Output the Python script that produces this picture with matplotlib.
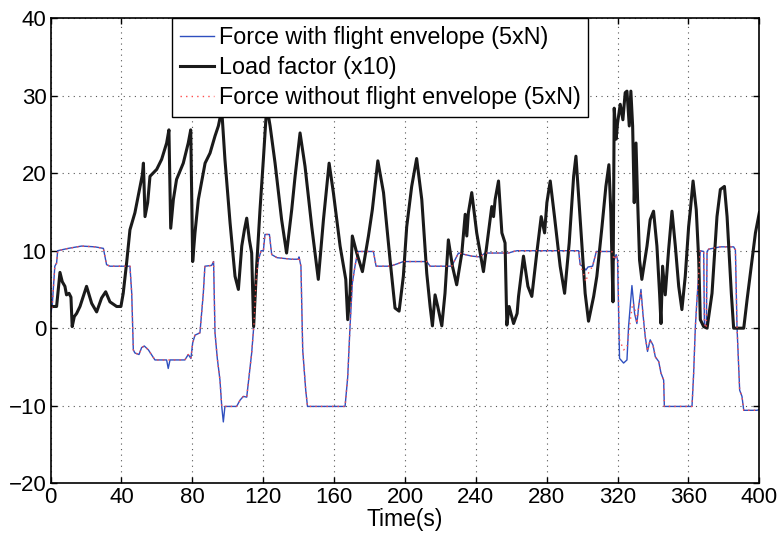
import matplotlib.pyplot as plt
import numpy as np

plt.rcParams['font.family'] = ['Liberation Sans', 'DejaVu Sans']

# load factor (x10)
t_load = [0, 3.4, 5.3, 6.6, 8.1, 9.0, 10.4, 11.5, 12.2, 13.4, 14.7, 16.6, 20.3, 23.2, 26.0, 28.8,
          31.1, 33.5, 37.3, 39.7, 41.0, 42.9, 44.8, 47.6, 50.5, 51.8, 52.4, 53.3, 54.8, 56.1, 59.9,
          62.7, 65.5, 66.8, 67.8, 69.3, 71.1, 74.9, 77.7, 79.1, 80.2, 81.5, 83.4, 87.2, 90.0, 92.8,
          94.7, 96.6, 98.4, 101.3, 104.1, 106.0, 107.9, 109.4, 110.7, 112.2, 113.5, 114.6, 116.3,
          118.2, 120.1, 122.0, 123.9, 126.7, 130.4, 133.2, 136.1, 138.0, 140.8, 143.6, 147.4, 151.1,
          154.0, 157.2, 159.6, 163.4, 166.6, 167.7, 169.0, 170.3, 172.8, 176.0, 179.4, 181.6, 184.7,
          187.9, 191.6, 194.4, 196.7, 199.1, 201.0, 203.8, 206.6, 209.5, 212.3, 214.2, 215.5, 217.0,
          218.5, 220.8, 222.6, 224.5, 226.8, 229.2, 232.1, 234.0, 234.9, 235.8, 237.7, 240.5, 244.3,
          247.1, 249.0, 250.0, 250.9, 252.8, 254.7, 256.5, 257.5, 258.8, 261.3, 263.3, 264.1, 266.9,
          269.4, 271.6, 274.4, 276.9, 278.8, 280.1, 282.0, 284.4, 287.6, 290.1, 292.7, 295.2, 296.5,
          298.9, 301.7, 303.6, 306.5, 308.3, 311.2, 313.4, 315.1, 316.2, 317.4, 318.1, 319.2, 320.0,
          321.5, 323.0, 324.3, 325.3, 326.6, 327.5, 328.5, 329.4, 330.4, 331.3, 332.4, 333.7, 336.6,
          338.4, 340.3, 342.2, 343.7, 344.5, 345.4, 346.9, 348.8, 350.7, 352.6, 354.5, 356.3, 358.2,
          360.1, 361.1, 362.6, 364.4, 365.8, 366.7, 368.6, 370.5, 373.3, 376.1, 378.0, 380.3, 381.8,
          384.2, 385.5, 391.2, 393.1, 395.9, 397.8, 400.0]
v_load = [2.8, 2.8, 7.2, 6.0, 5.4, 4.3, 4.5, 4.0, 0.2, 1.5, 1.9, 2.8, 5.4, 3.2, 2.1, 3.9,
          4.7, 3.4, 2.8, 2.8, 4.5, 8.4, 12.7, 14.9, 18.3, 19.8, 21.3, 14.4, 16.2, 19.6, 20.5,
          21.8, 23.9, 25.6, 12.9, 16.6, 19.2, 21.3, 23.9, 25.6, 8.6, 12.3, 16.6, 21.3, 22.6, 24.8,
          26.1, 28.2, 21.8, 13.6, 6.7, 5.0, 10.6, 12.7, 14.2, 11.4, 9.7, 0.2, 8.0,
          15.3, 21.8, 28.7, 26.1, 21.3, 14.0, 9.7, 15.3, 19.6, 25.2, 20.9, 13.1, 6.3,
          14.0, 21.3, 17.5, 10.6, 6.3, 1.1, 4.5, 11.9, 9.7, 7.3, 11.9, 15.3, 21.6,
          17.5, 8.8, 2.6, 2.2, 6.7, 13.1, 18.3, 21.9, 16.6, 7.1, 2.8, 0.3, 4.3,
          2.8, 0.3, 4.5, 11.4, 8.0, 5.6, 9.7, 14.7, 11.9, 14.9, 17.5, 12.3, 7.3,
          12.3, 15.7, 14.4, 16.6, 19.0, 12.3, 11.0, 0.4, 2.8, 0.6, 1.9, 4.1, 9.3,
          5.4, 4.1, 9.7, 14.4, 12.3, 16.2, 19.0, 14.4, 8.0, 4.5, 11.0, 19.6, 22.2,
          14.0, 4.5, 0.9, 4.1, 6.7, 13.1, 18.3, 21.1, 14.9, 3.4, 28.4, 24.4, 26.5,
          28.9, 26.9, 30.4, 30.6, 26.1, 30.6, 26.1, 16.2, 23.9, 16.6, 8.8, 6.3, 10.6,
          14.0, 15.1, 10.6, 4.5, 0.6, 8.0, 4.3, 10.1, 15.1, 10.6, 5.4, 2.4, 6.7,
          13.1, 15.3, 19.0, 15.3, 8.8, 1.1, 0.2, 0.0, 4.5, 14.4, 17.9, 18.3, 14.4,
          4.5, 0.0, 0.0, 3.7, 8.8, 12.3, 14.9]

# force with flight envelope (5xN)
t_env = [0, 0.9, 2.4, 3.4, 4.0, 10.0, 17.5, 25.0, 29.8, 31.6, 33.5, 44.8, 45.8, 46.7, 47.6, 49.9,
         51.4, 52.9, 55.2, 58.9, 65.5, 66.4, 67.4, 75.8, 77.7, 79.2, 80.2, 81.5, 84.3, 86.2, 87.1,
         90.9, 92.0, 92.8, 94.1, 95.6, 96.6, 97.5, 98.4, 105.0, 106.9, 108.8, 110.7, 112.0, 113.5,
         114.8, 116.0, 117.3, 118.8, 120.1, 121.0, 123.5, 124.8, 127.8, 136.1, 139.8, 140.2, 141.3,
         142.3, 144.0, 145.0, 166.2, 167.7, 169.0, 170.3, 171.8, 173.4, 182.2, 183.7, 191.6, 195.6,
         199.1, 212.3, 214.2, 226.4, 230.2, 232.1, 237.7, 242.4, 245.2, 258.4, 261.3, 263.3, 298.0,
         298.9, 300.8, 302.1, 303.3, 305.9, 308.0, 316.8, 318.1, 319.2, 320.0, 321.1, 323.4, 325.3,
         326.2, 328.1, 329.6, 330.9, 331.9, 333.2, 334.3, 335.6, 336.9, 338.4, 340.0, 341.3, 343.2,
         344.5, 346.0, 346.4, 362.0, 362.9, 363.9, 364.8, 366.1, 366.7, 368.6, 369.0, 370.1, 370.5,
         371.4, 378.0, 385.5, 386.5, 387.4, 388.9, 390.2, 391.2, 398.7, 400.0]
v_env = [1.9, 2.8, 8.0, 8.4, 10.0, 10.3, 10.6, 10.5, 10.3, 8.2, 8.0, 8.0, 4.5, -2.8, -3.2, -3.4,
         -2.5, -2.3, -2.8, -4.1, -4.1, -5.2, -4.1, -4.1, -3.4, -3.9, -1.9, -0.9, -0.6, 4.5, 8.0,
         8.1, 8.6, -0.6, -3.9, -6.7, -10.1, -12.1, -10.1, -10.1, -9.3, -8.8, -8.9, -6.3, -3.2,
         0.6, 6.3, 8.8, 10.0, 10.0, 12.1, 12.1, 9.5, 9.1, 8.9, 8.9, 9.2, 8.0,
         -2.8, -8.0, -10.1, -10.1, -6.3, 0.2, 5.8, 8.0, 9.9, 9.9, 8.0, 8.0, 8.3,
         8.6, 8.6, 8.0, 8.0, 9.7, 9.6, 9.3, 9.2, 9.7, 9.7, 9.9, 10.0, 10.0,
         8.2, 7.9, 7.5, 7.9, 8.0, 9.9, 9.9, 8.8, 9.5, 8.8, -3.9, -4.5, -4.1,
         0.2, 5.5, 1.9, 0.6, 2.8, 5.0, 1.9, -1.1, -3.0, -1.5, -2.2, -3.7, -4.3,
         -5.8, -6.7, -10.1, -10.1, -6.0, 0.2, 3.7, 8.0, 10.0, 9.9, 0.6, 0.0, 9.9,
         10.2, 10.5, 10.5, 10.1, 0.2, -8.0, -8.8, -10.6, -10.6, -10.5]

# force without flight envelope (5xN)
t_noenv = [0, 0.9, 2.4, 3.4, 4.0, 10.0, 17.5, 25.0, 29.8, 31.6, 33.5, 44.8, 45.8, 46.7, 47.6, 49.9,
           51.4, 52.9, 55.2, 58.9, 75.8, 77.7, 79.2, 80.2, 81.5, 84.3, 86.2, 87.1,
           90.9, 92.0, 92.8, 94.1, 95.6, 96.6, 105.0, 106.9, 108.8, 110.7, 112.0, 113.5,
           114.8, 116.0, 117.3, 118.8, 120.1, 121.0, 123.5, 124.8, 127.8, 136.1, 139.8, 140.2, 141.3,
           142.3, 144.0, 145.0, 166.2, 167.7, 169.0, 170.3, 171.8, 173.4, 182.2, 183.7, 191.6, 195.6,
           199.1, 212.3, 214.2, 226.4, 230.2, 232.1, 237.7, 242.4, 245.2, 258.4, 261.3, 263.3, 298.0,
           298.9, 300.8, 302.1, 303.3, 305.9, 308.0, 316.8, 318.1, 319.2, 320.0, 321.1, 323.4, 325.3,
           326.9, 328.5, 329.6, 330.9, 331.9, 333.2, 334.3, 335.6, 336.9, 338.4, 340.0, 341.3, 343.2,
           344.5, 346.0, 346.4, 362.0, 362.9, 363.9, 364.8, 366.1, 366.7, 368.6, 369.0, 370.1, 370.5,
           371.4, 378.0, 385.5, 386.5, 387.4, 388.9, 390.2, 391.2, 398.7, 400.0]
v_noenv = [1.9, 2.8, 8.0, 8.4, 10.0, 10.3, 10.6, 10.5, 10.3, 8.2, 8.0, 8.0, 4.5, -2.8, -3.2, -3.4,
           -2.5, -2.3, -2.8, -4.1, -4.1, -3.4, -3.9, -1.9, -0.9, -0.6, 4.5, 8.0,
           8.1, 8.6, -0.6, -3.9, -6.7, -10.1, -10.1, -9.3, -8.8, -8.9, -6.3, -3.2,
           0.6, 6.3, 8.8, 10.0, 10.0, 12.1, 12.1, 9.5, 9.1, 8.9, 8.9, 9.2, 8.0,
           -2.8, -8.0, -10.1, -10.1, -6.3, 0.2, 5.8, 8.0, 9.9, 9.9, 8.0, 8.0, 8.3,
           8.6, 8.6, 8.0, 8.0, 9.7, 9.6, 9.3, 9.2, 9.7, 9.7, 9.9, 10.0, 10.0,
           8.2, 7.0, 6.0, 7.0, 8.0, 9.9, 9.9, 8.8, 9.5, 8.8, -1.5, -2.8, -2.5,
           0.5, 3.2, 2.8, 0.6, 2.8, 4.5, 1.9, -1.1, -3.0, -1.5, -2.2, -3.7, -4.3,
           -5.8, -6.7, -10.1, -10.1, -6.0, 0.2, 3.7, 8.0, 10.0, 9.9, 0.6, 0.0, 9.9,
           10.2, 10.5, 10.5, 10.1, 0.2, -8.0, -8.8, -10.6, -10.6, -10.5]

fig = plt.figure(figsize=(7.78, 5.38), dpi=100)
ax = fig.add_axes([0.065, 0.102, 0.911, 0.864])

ax.plot(t_env, v_env, color='#2f4fbf', linewidth=1.0, label='Force with flight envelope (5xN)')
ax.plot(t_load, v_load, color='#1a1a1a', linewidth=2.2, solid_joinstyle='round',
        label='Load factor (x10)')
ax.plot(t_noenv, v_noenv, color='#ff4c4c', linewidth=1.0, linestyle=(0, (1, 3)),
        label='Force without flight envelope (5xN)')

ax.set_xlim(0, 400)
ax.set_ylim(-20, 40)
ax.set_xticks(np.arange(0, 401, 40))
ax.set_yticks(np.arange(-20, 41, 10))
ax.tick_params(direction='in', length=4, width=1, top=True, right=True, labelsize=16, pad=3)
ax.grid(True, color='#555555', linestyle=(0, (1, 4)), linewidth=0.8)
for s in ax.spines.values():
    s.set_linewidth(1.2)
ax.set_xlabel('Time(s)', fontsize=16.5, labelpad=0)

ax.legend(loc='upper left', bbox_to_anchor=(0.1717, 1.0), fontsize=16.8, frameon=True,
          fancybox=False, edgecolor='black', framealpha=1, handlelength=1.46,
          handletextpad=0.2, labelspacing=0.3, borderpad=0.33, borderaxespad=0)

fig.savefig('out.png', dpi=100)
